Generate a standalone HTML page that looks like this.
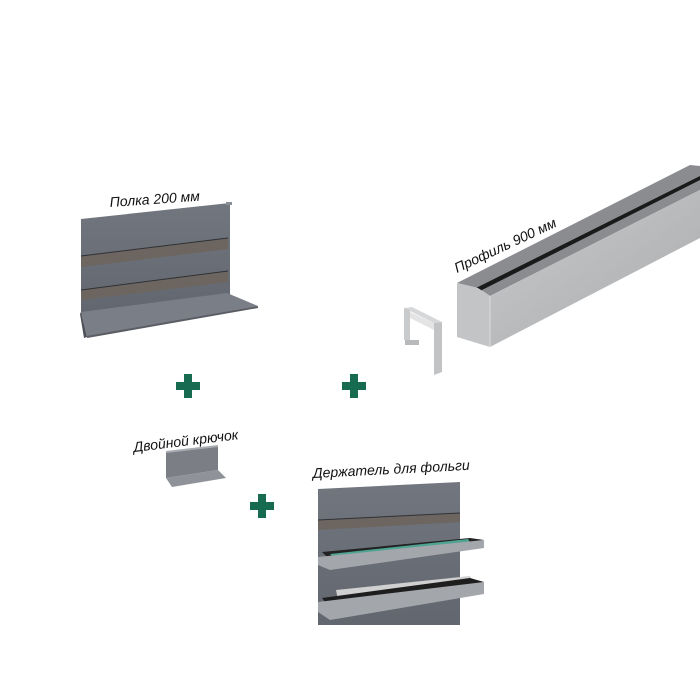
<!DOCTYPE html>
<html><head><meta charset="utf-8"><style>
html,body{margin:0;padding:0;background:#fff;width:700px;height:700px;overflow:hidden}
svg text{font-family:"Liberation Sans",sans-serif;font-style:italic;font-size:14px;fill:#111}
</style></head><body>
<svg width="700" height="700" viewBox="0 0 700 700">
<defs>
<linearGradient id="pg" x1="0" y1="0" x2="0" y2="1"><stop offset="0" stop-color="#72767e"/><stop offset="1" stop-color="#62666e"/></linearGradient>
<linearGradient id="al" x1="0" y1="0" x2="1" y2="1"><stop offset="0" stop-color="#c9cacc"/><stop offset="1" stop-color="#a9abad"/></linearGradient>
</defs>
<!-- Shelf -->
<polygon points="81,219 230,203 230,300 81,315" fill="url(#pg)"/>
<polygon points="226,202 232,202 232,205 226,205" fill="#8a8e95"/>
<polygon points="81,256 228,238 228,249 81,267" fill="#6d6660"/>
<line x1="81" y1="256" x2="228" y2="238" stroke="#2f3136" stroke-width="1"/>
<polygon points="81,290 228,271 228,282 81,300" fill="#6d6660"/>
<line x1="81" y1="290" x2="228" y2="271" stroke="#2f3136" stroke-width="1"/>
<polygon points="81,312 227,293 258,306 87,337" fill="#7a7e86"/>
<polygon points="81,312 87,337 84,338 80,314" fill="#4d5058"/>
<line x1="87" y1="337" x2="258" y2="307" stroke="#5a5d64" stroke-width="2"/>
<text x="0" y="0" transform="translate(110,207) rotate(-4)">Полка 200 мм</text>
<!-- Plus signs -->
<g fill="#176b50">
<rect x="176" y="382" width="24" height="8"/><rect x="184" y="374" width="8" height="24"/>
<rect x="342" y="382" width="24" height="8"/><rect x="350" y="374" width="8" height="24"/>
<rect x="250" y="502" width="24" height="8"/><rect x="258" y="494" width="8" height="24"/>
</g>
<!-- Profile -->
<polygon points="457,283 690,165 700,166 700,190 490,296 478,288" fill="#8b8c8f"/>
<polygon points="472,290 700,176 700,180 476,293" fill="#1a1a1a"/>
<polygon points="490,296 700,190 700,238 490,347" fill="url(#al)"/>
<polygon points="457,283 478,288 490,296 490,347 457,337" fill="#c3c4c6"/>
<line x1="490" y1="296" x2="490" y2="347" stroke="#dcdcdd" stroke-width="1"/>
<text x="0" y="0" transform="translate(457,273) rotate(-25)">Профиль 900 мм</text>
<!-- Cap -->
<polygon points="404,308 412,307 442,322 434,323" fill="#d6d7d8"/>
<polygon points="434,323 442,322 442,372 434,375" fill="#c2c3c5"/>
<polygon points="404,308 410,310 410,340 404,340" fill="#c9cacc"/>
<polygon points="410,312 434,323 434,330 410,318" fill="#e4e4e5"/>
<rect x="405" y="340" width="14" height="5" fill="#b8b9bb"/>
<!-- Hook -->
<text x="0" y="0" transform="translate(134,452) rotate(-7)">Двойной крючок</text>
<polygon points="166,452 218,446 218,470 166,478" fill="#7b7e85"/>
<polygon points="166,478 218,470 226,478 172,487" fill="#8f9298"/>
<line x1="166" y1="452" x2="218" y2="446" stroke="#a8abb0" stroke-width="2"/>
<!-- Foil holder -->
<text x="0" y="0" transform="translate(313,478) rotate(-3)">Держатель для фольги</text>
<polygon points="318,489 460,482 460,625 318,625" fill="url(#pg)"/>
<polygon points="318,520 460,513 460,522 318,530" fill="#6d6660"/>
<line x1="318" y1="520" x2="460" y2="513" stroke="#2f3136" stroke-width="1"/>
<polygon points="322,552 470,538 484,540 330,560" fill="#222"/>
<polygon points="330,554 468,539 470,542 332,556" fill="#4fa391"/>
<polygon points="318,557 484,540 484,548 330,570 318,565" fill="#a3a6ab"/>
<polygon points="336,590 470,576 478,592 340,610" fill="#d0d0d0"/>
<polygon points="322,598 470,578 484,582 330,608" fill="#1e1e1e"/>
<polygon points="318,602 484,582 484,594 330,620 318,612" fill="#a3a6ab"/>
</svg>
</body></html>
